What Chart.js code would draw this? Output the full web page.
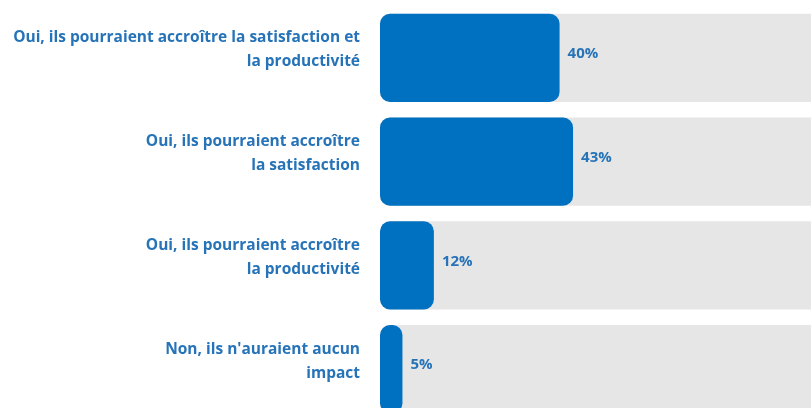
<!DOCTYPE html>
<html lang="fr">
<head>
<meta charset="utf-8">
<script src="https://cdn.jsdelivr.net/npm/chart.js@4"></script>
<style>
  html, body { margin: 0; padding: 0; background: #fff; overflow: hidden; }
</style>
</head>
<body>
<canvas id="myChart" width="811" height="422"></canvas>
<script>
// answers (each label split on two lines like the original)
const categories = [
  ["Oui, ils pourraient accroître la satisfaction et", "la productivité"],
  ["Oui, ils pourraient accroître", "la satisfaction"],
  ["Oui, ils pourraient accroître", "la productivité"],
  ["Non, ils n'auraient aucun", "impact"],
];
const values = [40, 43, 12, 5]; // % of answers
const track = [96, 96, 96, 96]; // grey background bars, full width

const blue = "#0070C0";
const textBlue = "#2673B8";
const fontFamily = "'Open Sans', sans-serif";

const ctx = document.getElementById("myChart");

// fit label size so the longest line is as wide as in the picture (~347px)
const probe = document.createElement("canvas").getContext("2d");
probe.font = "bold 16px " + fontFamily;
const longest = Math.max(...categories.flat().map((t) => probe.measureText(t).width));
const labelSize = Math.min(17, (16 * 347) / longest);

const labelsPlugin = {
  id: "labelsPlugin",
  afterDatasetsDraw(chart) {
    const c = chart.ctx;
    const yScale = chart.scales.y;
    const xScale = chart.scales.x;
    c.save();
    c.fillStyle = textBlue;
    // category labels, right aligned left of the bars
    c.font = "bold " + labelSize + "px " + fontFamily;
    c.textAlign = "right";
    c.textBaseline = "middle";
    categories.forEach((lines, i) => {
      const y = yScale.getPixelForValue(i) - 8;
      lines.forEach((line, j) => {
        c.fillText(line, 360, y + (j - (lines.length - 1) / 2) * 24);
      });
    });
    // percentages right of each blue bar
    c.font = "bold 15px " + fontFamily;
    c.textAlign = "left";
    values.forEach((v, i) => {
      const x = xScale.getPixelForValue(v) + 8;
      const y = yScale.getPixelForValue(i) - 4;
      c.fillText(v + "%", x, y);
    });
    c.restore();
  },
};

const myChart = new Chart(ctx, {
  type: "bar",
  data: {
    labels: categories,
    datasets: [
      {
        label: "Réponses",
        data: values,
        backgroundColor: blue,
        borderRadius: 10,
        borderSkipped: false,
        barPercentage: 0.85,
        categoryPercentage: 1,
        grouped: false,
        order: 1,
      },
      {
        label: "Total",
        data: track,
        backgroundColor: "#E6E6E6",
        borderRadius: { topLeft: 10, bottomLeft: 10, topRight: 0, bottomRight: 0 },
        borderSkipped: false,
        barPercentage: 0.85,
        categoryPercentage: 1,
        grouped: false,
        order: 2,
      },
    ],
  },
  options: {
    indexAxis: "y",
    responsive: false,
    animation: false,
    layout: { padding: { top: 6, right: 0, bottom: 1, left: 0 } },
    plugins: {
      legend: { display: false },
      tooltip: { enabled: false },
    },
    scales: {
      x: {
        display: false,
        min: 0,
        max: 96,
      },
      y: {
        ticks: { display: false },
        grid: { display: false },
        border: { display: false },
        afterFit: (scale) => {
          scale.width = 380;
        },
      },
    },
  },
  plugins: [labelsPlugin],
});
</script>
</body>
</html>
